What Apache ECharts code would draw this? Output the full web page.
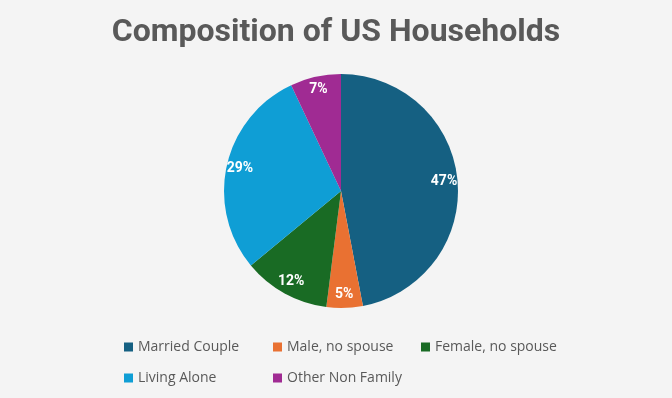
<!DOCTYPE html>
<html>
<head>
<meta charset="utf-8">
<style>
  html, body { margin: 0; padding: 0; background: #f4f4f4; }
  #chart { width: 672px; height: 398px; }
</style>
<script src="https://cdn.jsdelivr.net/npm/echarts@6/dist/echarts.min.js"></script>
</head>
<body>
<div id="chart"></div>
<script>
// 数据
var categories = ['Married Couple', 'Male, no spouse', 'Female, no spouse', 'Living Alone', 'Other Non Family'];
var shares = [47, 5, 12, 29, 7];
var colors = ['#156082', '#e97132', '#196b24', '#0f9ed5', '#a02b93'];

var pieData = categories.map(function (name, i) {
  return { name: name, value: shares[i], itemStyle: { color: colors[i] } };
});

//图例：每项单独放，三列两行
var legendCols = [119, 268, 416];
var legendRows = [335, 366];
var legends = categories.map(function (name, i) {
  return {
    data: [name],
    left: legendCols[i % 3],
    top: legendRows[Math.floor(i / 3)],
    itemWidth: 9,
    itemHeight: 9,
    icon: 'rect',
    textStyle: { color: '#595959', fontSize: 14, fontFamily: 'Open Sans' }
  };
});

var option = {
  backgroundColor: '#f4f4f4',
  title: {
    text: 'Composition of US Households',
    left: 'center',
    top: 12,
    textStyle: { color: '#595959', fontSize: 32, fontWeight: 'bold', fontFamily: 'Roboto' }
  },
  legend: legends,
  series: [{
    name: 'households',
    type: 'pie',
    center: [341, 191],
    radius: [0, 117],
    startAngle: 90,
    clockwise: true,
    label: { show: false },
    labelLine: { show: false },
    data: pieData
  }, {
    //只用来放标签
    name: 'labels',
    type: 'pie',
    center: [341, 191],
    radius: [84, 117],
    startAngle: 90,
    clockwise: true,
    silent: true,
    legendHoverLink: false,
    itemStyle: { color: 'rgba(0,0,0,0)' },
    label: {
      show: true,
      position: 'inside',
      formatter: '{c}%',
      color: '#ffffff',
      fontSize: 14,
      fontWeight: 'bold',
      fontFamily: 'Roboto'
    },
    labelLine: { show: false },
    data: categories.map(function (name, i) { return { name: name, value: shares[i] }; })
  }]
};

var myChart = echarts.init(document.getElementById('chart'));
myChart.setOption(option);
</script>
</body>
</html>
